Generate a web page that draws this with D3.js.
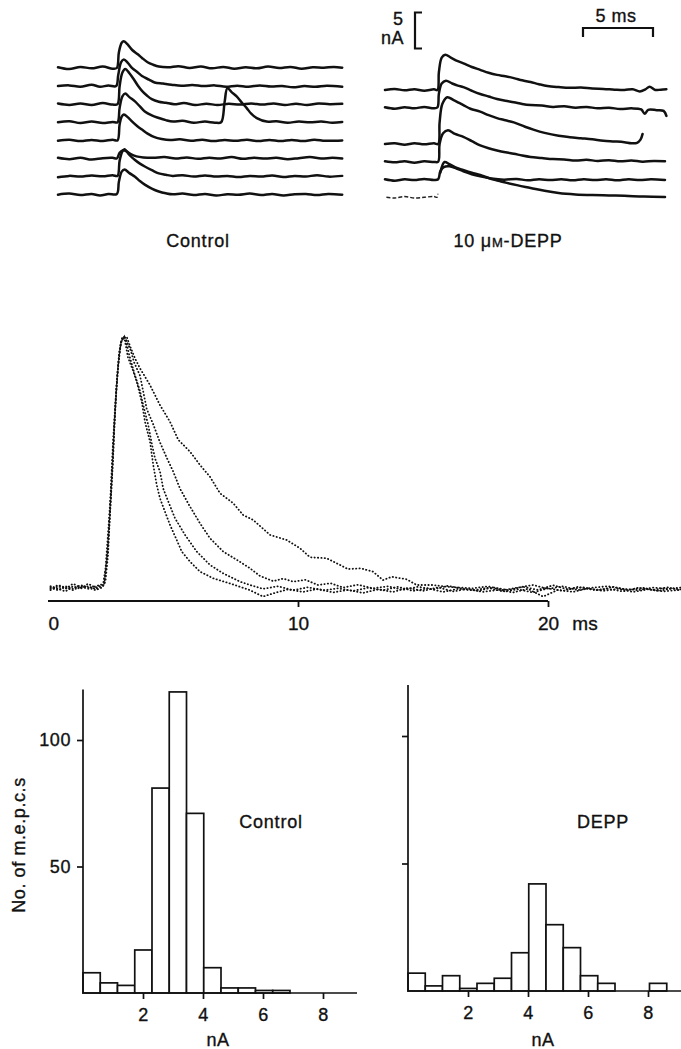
<!DOCTYPE html>
<html>
<head>
<meta charset="utf-8">
<script src="https://cdnjs.cloudflare.com/ajax/libs/d3/7.8.5/d3.min.js"></script>
<style>
    body { margin: 0; background: #fff; }
    svg text { font-family: "Liberation Sans", Arial, Helvetica, sans-serif; fill: #111; stroke: #111; stroke-width: 0.35px; }
</style>
</head>
<body>
<svg id="figure" width="681" height="1049"></svg>
<script>
// ---------- data ----------
// top left: control m.e.p.c. records, [time ms, current nA]
var controlTraces = [
    [[0,0.1],[0.8,-0.15],[1.6,0.15],[2.4,-0.05],[3.2,0.2],[3.9,-0.1],[4.2,0],[4.35,2.2],[4.55,3.5],[4.7,3.7],[5.0,3.2],[5.3,2.5],[5.7,1.9],[6.0,1.4],[6.4,0.8],[6.8,0.45],[7.2,0.2],[7.9,0.1],[8.6,0.25],[9.4,0],[10.2,0.2],[11.0,-0.05],[11.8,0.15],[12.6,-0.1],[13.4,0.1],[14.2,-0.05],[15.0,0.2],[15.8,0],[16.6,0.15],[17.4,-0.1],[18.2,0.1],[19.0,0.05],[19.7,0.15],[20.3,0.05]],
    [[0,0],[0.8,0.1],[1.6,-0.1],[2.4,0.2],[3.0,-0.1],[3.6,0.1],[4.15,0],[4.3,1.5],[4.5,3.3],[4.7,3.7],[5.0,3.2],[5.3,2.5],[5.7,1.9],[6.0,1.4],[6.5,0.9],[6.9,0.5],[7.5,0.35],[8.1,0.2],[8.8,0.05],[9.6,0.15],[10.4,0],[11.2,0.1],[12.0,-0.1],[12.8,0.05],[13.6,-0.1],[14.4,0.1],[15.2,-0.05],[16.0,0],[16.8,-0.15],[17.6,0],[18.4,-0.1],[19.2,0.05],[20.3,-0.1]],
    [[0,0.1],[0.8,-0.1],[1.6,0.1],[2.4,-0.1],[3.2,0.15],[3.9,-0.05],[4.25,0],[4.4,2.5],[4.6,4.4],[4.8,4.9],[5.1,4.3],[5.4,3.5],[5.7,2.6],[6.0,1.85],[6.35,1.2],[6.7,0.7],[7.2,0.35],[7.7,0.2],[8.3,0],[9.0,0.15],[9.8,-0.1],[10.6,0.05],[11.4,-0.1],[12.2,0.05],[13.0,-0.05],[13.8,0.1],[14.6,-0.05],[15.4,0.1],[16.2,-0.1],[17.0,0.05],[17.8,-0.1],[18.6,0.1],[19.4,0],[20.3,0.05]],
    [[0,0],[0.8,0.15],[1.6,-0.1],[2.4,0.1],[3.2,-0.1],[3.9,0.05],[4.25,0],[4.4,2.0],[4.6,3.6],[4.8,4.0],[5.1,3.5],[5.5,2.9],[5.85,2.2],[6.2,1.5],[6.7,0.95],[7.2,0.6],[7.7,0.3],[8.2,0.1],[8.9,0.2],[9.7,-0.05],[10.5,0.1],[11.2,-0.05],[11.65,0],[11.9,2.8],[12.1,4.75],[12.4,4.2],[12.76,3.6],[13.1,2.8],[13.48,1.97],[13.8,1.2],[14.2,0.58],[14.9,0.1],[15.6,0.15],[16.4,-0.05],[17.2,0.1],[18.0,0],[18.8,0.1],[19.6,-0.05],[20.3,0.05]],
    [[0,-0.05],[0.8,0.1],[1.6,-0.1],[2.4,0.05],[3.2,-0.1],[3.9,0.1],[4.25,0],[4.4,2.2],[4.55,3.3],[4.7,3.6],[5.0,3.2],[5.3,2.6],[5.65,2.0],[6.0,1.5],[6.4,0.95],[6.9,0.45],[7.4,0.2],[8.0,0.05],[8.7,0.15],[9.5,-0.05],[10.3,0.1],[11.1,-0.1],[11.9,0.05],[12.7,-0.05],[13.5,0.1],[14.3,-0.1],[15.1,0.05],[15.9,-0.1],[16.7,0.05],[17.5,-0.1],[18.3,0.1],[19.1,-0.05],[20.3,0]],
    [[0,0.1],[0.8,-0.1],[1.6,0.1],[2.4,-0.15],[3.2,0.05],[3.9,0.1],[4.2,0],[4.4,0.8],[4.65,1.15],[4.9,1.0],[5.2,0.6],[5.6,0.3],[6.1,0.15],[6.8,0.1],[7.6,0.2],[8.4,0],[9.2,0.15],[10.0,-0.05],[10.8,0.1],[11.6,0],[12.4,0.2],[13.2,-0.05],[14.0,0.1],[14.8,0],[15.6,0.1],[16.4,-0.1],[17.2,0.05],[18.0,0.2],[18.8,0],[19.6,0.1],[20.3,0]],
    [[0,-0.1],[0.8,0.1],[1.6,0],[2.4,0.15],[3.2,0.05],[3.9,0.2],[4.25,0.1],[4.4,2.2],[4.6,3.5],[4.75,3.8],[5.1,3.0],[5.5,2.3],[5.85,1.8],[6.2,1.4],[6.7,0.9],[7.2,0.45],[7.7,0.25],[8.2,0.1],[8.9,0.2],[9.7,0],[10.5,0.15],[11.3,0],[12.1,0.1],[12.9,-0.05],[13.7,0.1],[14.5,0],[15.3,0.15],[16.1,-0.05],[16.9,0.1],[17.7,0],[18.5,0.2],[19.3,0],[20.3,0.1]],
    [[0,0],[0.8,0.15],[1.6,-0.05],[2.4,0.1],[3.0,-0.1],[3.6,0.1],[4.2,0.1],[4.35,1.8],[4.55,3.2],[4.75,3.5],[5.1,3.0],[5.5,2.5],[5.85,1.9],[6.2,1.4],[6.7,0.85],[7.2,0.45],[7.7,0.2],[8.2,0.05],[8.9,0.15],[9.7,-0.05],[10.5,0.1],[11.3,-0.1],[12.1,0.05],[12.9,0],[13.7,0.15],[14.5,-0.05],[15.3,0.1],[16.1,-0.1],[16.9,0.05],[17.7,0.1],[18.5,-0.05],[19.3,0.1],[20.3,0]]
];

// top right: 10 uM-DEPP records, [time ms, current nA]
var deppTraces = [
    [[0,0],[0.7,0.15],[1.4,-0.05],[2.1,0.1],[2.8,-0.1],[3.5,0.1],[3.75,0],[3.85,2.5],[4.05,4.5],[4.3,4.9],[4.7,4.5],[5.2,4.0],[5.6,3.7],[6.2,3.2],[6.8,2.8],[7.4,2.4],[8.0,2.1],[8.6,1.9],[9.2,1.65],[9.8,1.35],[10.4,1.1],[11.0,0.8],[11.6,0.55],[12.4,0.4],[13.2,0.3],[14.0,0.35],[14.8,0.2],[15.6,0.15],[16.4,0.05],[17.1,0],[17.7,0.1],[18.2,-0.2],[18.6,0.1],[18.9,0.45],[19.3,0],[19.7,0.05],[20.1,0.1]],
    [[0,0.1],[0.7,-0.1],[1.4,0.1],[2.1,-0.05],[2.8,0.15],[3.5,-0.05],[3.75,0.1],[3.85,2.0],[4.05,3.4],[4.35,3.8],[4.8,3.4],[5.2,3.1],[5.6,2.9],[6.2,2.4],[6.8,1.95],[7.4,1.6],[8.0,1.25],[8.6,1.0],[9.2,0.8],[9.8,0.55],[10.4,0.4],[11.2,0.35],[12.0,0.15],[12.8,0.25],[13.6,0.05],[14.4,0.15],[15.2,-0.05],[16.0,0.05],[16.8,-0.15],[17.6,-0.05],[18.3,-0.2],[18.55,-0.8],[18.8,-0.25],[19.4,-0.3],[19.9,-0.4],[20.1,-1.1]],
    [[0,0],[0.7,0.1],[1.4,-0.1],[2.1,0.1],[2.8,-0.05],[3.5,0.1],[3.8,0],[3.9,3.0],[4.1,5.6],[4.45,6.5],[4.9,6.1],[5.3,5.7],[5.6,5.4],[6.1,4.9],[6.8,4.5],[7.4,4.0],[8.0,3.6],[8.6,3.3],[9.2,3.0],[10.0,2.4],[10.6,2.0],[11.4,1.55],[12.4,1.15],[13.2,0.95],[14.0,0.8],[14.8,0.65],[15.6,0.45],[16.4,0.35],[17.1,0.24],[17.6,0.1],[18.0,0.15],[18.25,0.6],[18.4,1.4]],
    [[0,0.1],[0.7,-0.05],[1.4,0.1],[2.1,-0.1],[2.8,0.1],[3.5,0],[3.8,0.05],[3.9,2.5],[4.15,4.0],[4.5,4.4],[5.0,3.9],[5.6,3.5],[6.2,2.9],[6.8,2.3],[7.4,1.9],[8.0,1.6],[8.6,1.35],[9.2,1.15],[9.8,0.9],[10.4,0.7],[11.2,0.55],[12.0,0.4],[12.8,0.35],[13.6,0.2],[14.4,0.3],[15.2,0.15],[16.0,0.25],[16.8,0.1],[17.6,0.2],[18.4,0.05],[19.2,0.15],[20.0,0.1]],
    [[0,0.1],[0.7,-0.1],[1.4,0.1],[2.1,0],[2.8,0.15],[3.5,0],[3.8,0.1],[3.95,1.2],[4.2,1.8],[4.6,1.9],[5.1,1.6],[5.6,1.2],[6.2,0.8],[6.8,0.5],[7.6,0.2],[8.5,0.05],[9.4,0.15],[10.2,-0.05],[11.0,0.1],[11.8,0],[12.6,0.1],[13.4,-0.05],[14.2,0.1],[15.0,0],[15.8,0.1],[16.6,-0.05],[17.4,0.1],[18.2,0],[19.0,0.1],[20.0,0]],
    [[3.95,3.5],[4.25,5.0],[4.6,4.7],[5.0,4.3],[5.57,3.9],[6.2,3.5],[6.8,3.2],[7.5,2.7],[8.1,2.4],[8.7,2.1],[9.5,1.75],[10.4,1.4],[11.4,1.0],[12.4,0.7],[13.6,0.5],[14.8,0.4],[16.0,0.35],[17.1,0.3],[18.5,0.2],[20.0,0.15]]
];
var deppSlots = [0, 1, 3, 4, 5, 6];
// faint start of the last DEPP record
var deppLeadIn = [[0.1,0.1],[0.7,0],[1.4,0.2],[2.1,0],[2.8,0.1],[3.5,0.2],[3.72,0.1],[3.78,0.6]];

// middle: superimposed averaged m.e.p.c.s, [time ms, % of peak]
var avgTraceA = [[0.1,2.5],[0.4,1.5],[0.7,3],[1.0,2],[1.3,3.5],[1.6,2.5],[1.9,1.5],[2.15,2.5],[2.25,4],[2.35,12],[2.45,28],[2.55,46],[2.62,60],[2.7,74],[2.78,86],[2.86,95],[2.97,100],[3.15,100],[3.3,96],[3.48,91.7],[3.68,87.8],[4.08,81.3],[4.48,73.5],[4.88,67],[5.21,60],[5.68,55.4],[6.08,50.2],[6.48,45.6],[6.88,39.2],[7.41,35.3],[7.81,30.7],[8.21,28.8],[8.88,23],[9.55,21],[10.08,17.8],[10.48,14.3],[11.15,13.9],[11.68,11.3],[12.0,9.7],[12.5,10],[13.0,8.7],[13.4,5.4],[13.75,6.7],[14.35,5.7],[14.75,3.5],[15.4,3.5],[15.95,2.8],[17.0,2.2],[17.6,3],[18.2,1.5],[18.8,2.5],[19.4,3.5],[20,2],[20.6,3],[21.2,1.5],[21.8,2.5],[22.4,3],[23,2],[23.6,1.5],[24.2,2.5],[24.8,2],[25.3,2.5]];
var avgTraceB = [[0.1,1.5],[0.4,3],[0.7,2],[1.0,4],[1.3,2.5],[1.6,3],[1.9,2],[2.2,3],[2.3,5],[2.4,15],[2.48,31],[2.56,45],[2.64,62],[2.72,78],[2.8,88],[2.9,97],[3.0,100],[3.12,99],[3.3,95],[3.45,90],[3.68,85],[3.95,72],[4.21,66],[4.48,59],[4.75,53],[5.01,47.6],[5.28,41],[5.68,34],[6.08,27.5],[6.48,21.7],[7.01,16.5],[7.55,13.3],[8.08,10],[8.48,7],[9.01,5],[9.41,6],[9.81,4.8],[10.3,5.5],[10.8,3.5],[11.3,4.2],[11.8,2.5],[12.4,3.6],[13.0,2.2],[13.6,3],[14.2,1.6],[14.8,2.8],[15.4,1.8],[16.0,3.2],[16.6,2],[17.2,1.2],[17.8,2.6],[18.4,1.5],[19.0,2.8],[19.6,1.6],[20.2,3.4],[20.8,1.8],[21.4,2.6],[22.0,1.4],[22.6,2.8],[23.2,1.6],[23.8,2.4],[24.4,1.2],[25.0,2.2],[25.3,1.8]];
var avgTraceC = [[0.1,3],[0.4,2],[0.7,1],[1.0,3],[1.3,2],[1.6,4],[1.9,2.5],[2.2,3.5],[2.3,10],[2.42,26],[2.5,38],[2.6,59],[2.68,72],[2.76,84],[2.84,93],[2.95,99],[3.08,100],[3.25,93],[3.45,86],[3.68,79],[3.81,73.5],[4.01,65.7],[4.15,58.6],[4.28,52.8],[4.48,47.6],[4.61,41],[4.81,36],[5.08,29.5],[5.48,23],[5.95,16.5],[6.48,11.3],[7.01,8],[7.68,4.8],[8.08,3.5],[8.6,2],[9.2,3],[9.8,1.5],[10.4,2.6],[11.0,1.4],[11.6,2.2],[12.2,1.2],[12.8,2.4],[13.4,1.5],[14.0,2.8],[14.6,1.2],[15.2,2.2],[15.8,0.8],[16.4,2],[17.0,1.4],[17.6,2.4],[18.2,1],[18.8,1.8],[19.4,0.6],[20.0,2.2],[20.6,1.2],[21.2,2.8],[21.8,1.6],[22.4,2],[23.0,1],[23.6,2.4],[24.2,1.6],[24.8,2.6],[25.3,1.4]];
var avgTraceD = [[0.1,2],[0.4,3.5],[0.7,2.5],[1.0,1.5],[1.3,3],[1.6,2],[1.9,3],[2.25,4],[2.38,16],[2.47,30],[2.54,42],[2.6,52],[2.66,67],[2.74,80],[2.82,90],[2.92,98],[3.05,100],[3.2,92],[3.4,87],[3.55,82.6],[3.75,74.8],[3.88,67],[4.08,59.3],[4.21,50.2],[4.35,42.4],[4.48,37.2],[4.68,32],[4.88,26.9],[5.15,21],[5.35,16.5],[5.68,12.6],[6.08,8.7],[6.61,6.1],[7.28,4.1],[8.08,1.5],[8.6,-1],[9.1,0.5],[9.6,1.8],[10.2,0.8],[10.8,2],[11.4,0.6],[12.0,1.6],[12.6,0.4],[13.2,1.8],[13.8,0.8],[14.4,2.4],[15.0,1.2],[15.6,2.6],[16.2,1],[16.8,2],[17.4,0.8],[18.0,1.6],[18.6,0.6],[19.2,2],[19.8,-1],[20.4,1.6],[21.0,0.8],[21.6,2.2],[22.2,1.2],[22.8,2],[23.4,0.8],[24.0,1.8],[24.6,1],[25.3,1.6]];
var avgTicksX = [0, 10, 20];

// bottom: amplitude histograms (bin width in nA, counts per bin)
var binWidth = 0.575;
var controlCounts = [8, 4, 3, 17, 81, 119, 71, 10, 2, 2, 1, 1];
var deppCounts = [7, 2, 6, 1, 3, 5, 15, 42, 26, 17, 6, 3, 0, 0, 3];
var histTicksX = [2, 4, 6, 8];
var histTicksY = [50, 100];

// ---------- drawing ----------
var svg = d3.select("#figure");

drawRecords();
drawAverages();
drawHistogram(controlCounts, [83, 357], [993, 740], true, "Control", 271);
drawHistogram(deppCounts, [408, 681], [991, 736], false, "DEPP", 603);

function traceLine(x, y) {
    return d3.line()
        .x(function (d) { return x(d[0]); })
        .y(function (d) { return y(d[1]); })
        .curve(d3.curveCatmullRom.alpha(0.5));
}

function drawRecords() {
    var xC = d3.scaleLinear().domain([0, 20.3]).range([58, 342.2]);
    var xD = d3.scaleLinear().domain([0, 20]).range([385, 665]);
    var slotY = function (slot, first, gap) {
        var base = first + slot * gap;
        return d3.scaleLinear().domain([0, 5]).range([base, base - 36]);
    };

    controlTraces.forEach(function (trace, k) {
        svg.append("path")
            .datum(trace)
            .attr("d", traceLine(xC, slotY(k, 68, 18.1)))
            .attr("fill", "none")
            .attr("stroke", "#111")
            .attr("stroke-width", 2.5)
            .attr("stroke-linejoin", "round")
            .attr("stroke-linecap", "round");
    });

    deppTraces.forEach(function (trace, k) {
        svg.append("path")
            .datum(trace)
            .attr("d", traceLine(xD, slotY(deppSlots[k], 90, 18)))
            .attr("fill", "none")
            .attr("stroke", "#111")
            .attr("stroke-width", 2.5)
            .attr("stroke-linejoin", "round")
            .attr("stroke-linecap", "round");
    });

    svg.append("path")
        .datum(deppLeadIn)
        .attr("d", traceLine(xD, slotY(6, 90, 18)))
        .attr("fill", "none")
        .attr("stroke", "#222")
        .attr("stroke-width", 1.4)
        .attr("stroke-dasharray", "4,2");

    // scale bars: 5 nA and 5 ms
    var yBar = d3.scaleLinear().domain([0, 5]).range([48.5, 12.5]);
    svg.append("path")
        .attr("d", "M422," + yBar(5) + "H415V" + yBar(0) + "H422")
        .attr("fill", "none")
        .attr("stroke", "#111")
        .attr("stroke-width", 2.2);
    svg.append("text").attr("x", 403).attr("y", 25).attr("text-anchor", "end")
        .style("font-size", "18px").text("5");
    svg.append("text").attr("x", 404).attr("y", 44).attr("text-anchor", "end")
        .style("font-size", "18px").style("letter-spacing", "0.5px").text("nA");

    var t0 = xD.invert(583);
    svg.append("path")
        .attr("d", "M" + xD(t0) + ",37V28H" + xD(t0 + 5) + "V37")
        .attr("fill", "none")
        .attr("stroke", "#111")
        .attr("stroke-width", 2.2);
    svg.append("text").attr("x", 616).attr("y", 22).attr("text-anchor", "middle")
        .style("font-size", "18px").style("letter-spacing", "0.5px").text("5 ms");

    svg.append("text").attr("x", 198).attr("y", 247).attr("text-anchor", "middle")
        .style("font-size", "18px").style("letter-spacing", "0.8px").text("Control");
    var lab = svg.append("text").attr("x", 508).attr("y", 247).attr("text-anchor", "middle")
        .style("font-size", "18px").style("letter-spacing", "0.8px");
    lab.append("tspan").text("10 \u03bc");
    lab.append("tspan").style("font-size", "13px").text("M");
    lab.append("tspan").text("-DEPP");
}

function drawAverages() {
    var x = d3.scaleLinear().domain([0, 25.3]).range([48, 680.5]);
    var y = d3.scaleLinear().domain([0, 100]).range([594, 337]);
    var line = d3.line()
        .x(function (d) { return x(d[0]); })
        .y(function (d) { return y(d[1]); });

    [avgTraceA, avgTraceB, avgTraceC, avgTraceD].forEach(function (trace) {
        svg.append("path")
            .datum(trace)
            .attr("d", line)
            .attr("fill", "none")
            .attr("stroke", "#111")
            .attr("stroke-width", 1.8)
            .attr("stroke-linecap", "round")
            .attr("stroke-dasharray", "0.3 3.1");
    });

    svg.append("line")
        .attr("x1", x(0)).attr("x2", x(20))
        .attr("y1", 601).attr("y2", 601)
        .attr("stroke", "#111")
        .attr("stroke-width", 1.8);

    var axis = svg.append("g")
        .attr("transform", "translate(0,601)")
        .call(d3.axisBottom(x).tickValues(avgTicksX).tickSize(6).tickPadding(10));
    axis.select(".domain").remove();
    axis.selectAll(".tick line").attr("stroke", "#111").attr("stroke-width", 1.8)
        .filter(function (d) { return d === 0; }).remove();
    axis.selectAll(".tick text")
        .attr("fill", "#111")
        .style("font-family", "Liberation Sans, Arial, sans-serif")
        .style("font-size", "19px");
    axis.selectAll(".tick text").filter(function (d) { return d === 0; })
        .attr("text-anchor", "start");

    svg.append("text").attr("x", 585).attr("y", 630).attr("text-anchor", "middle")
        .style("font-size", "19px").text("ms");
}

function drawHistogram(counts, xRange, yRange, showLabels, name, nameX) {
    var x = d3.scaleLinear().domain([0, (xRange[1] - xRange[0]) / 30]).range(xRange);
    var y = d3.scaleLinear().domain([0, 100]).range(yRange);
    var top = 120;

    svg.append("g").selectAll("rect")
        .data(counts)
        .enter().append("rect")
        .attr("x", function (d, i) { return x(i * binWidth); })
        .attr("width", x(binWidth) - x(0))
        .attr("y", function (d) { return y(d); })
        .attr("height", function (d) { return y(0) - y(d); })
        .attr("fill", "#fff")
        .attr("stroke", "#111")
        .attr("stroke-width", 1.7)
        .style("display", function (d) { return d > 0 ? null : "none"; });

    // axes lines
    svg.append("path")
        .attr("d", "M" + x(0) + "," + y(top) + "V" + y(0) + "H" + xRange[1])
        .attr("fill", "none")
        .attr("stroke", "#111")
        .attr("stroke-width", 1.7);

    var xa = svg.append("g")
        .attr("transform", "translate(0," + y(0) + ")")
        .call(d3.axisBottom(x).tickValues(histTicksX).tickSize(6).tickPadding(9));
    xa.select(".domain").remove();

    var ya = svg.append("g")
        .attr("transform", "translate(" + x(0) + ",0)")
        .call(d3.axisLeft(y).tickValues(histTicksY).tickSize(6).tickPadding(6)
            .tickFormat(showLabels ? d3.format("d") : ""));
    ya.select(".domain").remove();

    [xa, ya].forEach(function (g) {
        g.selectAll(".tick line").attr("stroke", "#111").attr("stroke-width", 1.7);
        g.selectAll(".tick text")
            .attr("fill", "#111")
            .style("font-family", "Liberation Sans, Arial, sans-serif")
            .style("font-size", "18px")
            .style("letter-spacing", "0.6px");
    });

    svg.append("text")
        .attr("x", x(4.5)).attr("y", 1046)
        .attr("text-anchor", "middle")
        .style("font-size", "18px").style("letter-spacing", "0.6px")
        .text("nA");

    svg.append("text")
        .attr("x", nameX).attr("y", 828)
        .attr("text-anchor", "middle")
        .style("font-size", "18px").style("letter-spacing", "0.8px")
        .text(name);

    if (showLabels) {
        svg.append("text")
            .attr("transform", "translate(25,845) rotate(-90)")
            .attr("text-anchor", "middle")
            .style("font-size", "18px").style("letter-spacing", "0.6px")
            .text("No. of m.e.p.c.s");
    }
}
</script>
</body>
</html>
